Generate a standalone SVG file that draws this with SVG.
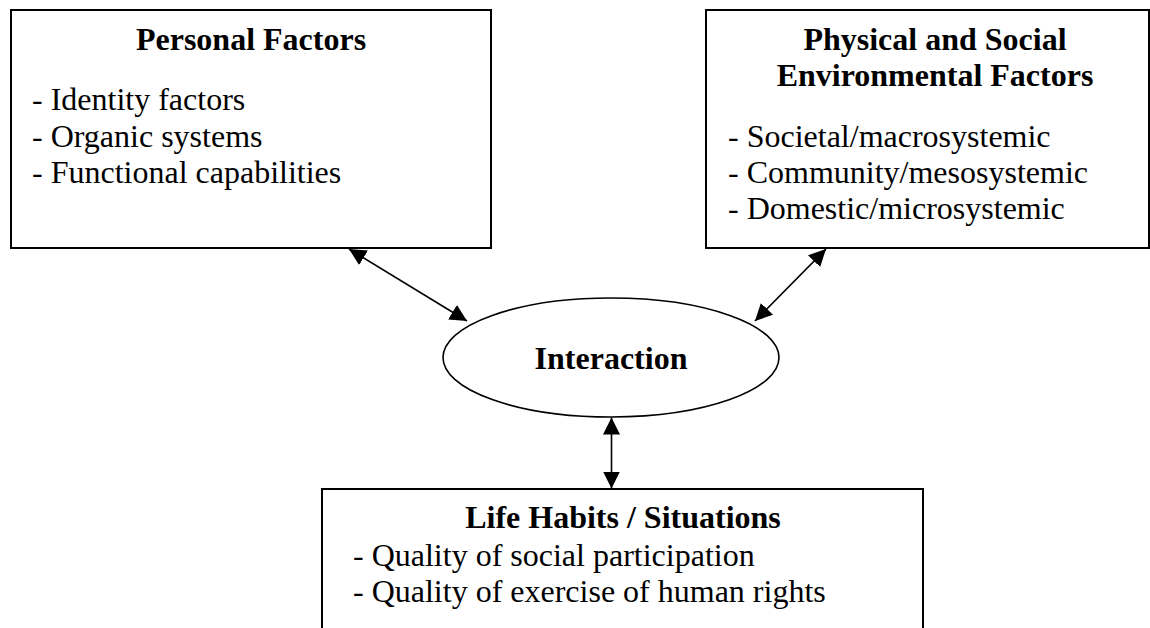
<svg xmlns="http://www.w3.org/2000/svg" width="1150" height="628" viewBox="0 0 1150 628">
  <style>
    .box { fill: #ffffff; stroke: #000000; stroke-width: 2; }
    .oval { fill: #ffffff; stroke: #000000; stroke-width: 1.6; }
    .title { font-family: "Liberation Serif", "Times New Roman", serif; font-weight: bold; font-size: 32px; fill: #000000; text-anchor: middle; }
    .item { font-family: "Liberation Serif", "Times New Roman", serif; font-size: 32px; fill: #000000; }
    .link { stroke: #000000; stroke-width: 1.6; fill: none; marker-start: url(#head); marker-end: url(#head); }
  </style>
  <defs>
    <marker id="head" markerUnits="userSpaceOnUse" markerWidth="17" markerHeight="17" refX="17" refY="8.5" orient="auto-start-reverse">
      <path d="M0,0 L17,8.5 L0,17 z" fill="#000000"/>
    </marker>
  </defs>
  <rect width="1150" height="628" fill="#ffffff"/>

  <g id="personal-factors">
    <rect class="box" x="11" y="10" width="480" height="238"/>
    <text class="title" x="251" y="50">Personal Factors</text>
    <text class="item" x="32" y="110">- Identity factors</text>
    <text class="item" x="32" y="147">- Organic systems</text>
    <text class="item" x="32" y="183">- Functional capabilities</text>
  </g>

  <g id="environmental-factors">
    <rect class="box" x="706" y="10" width="443" height="238"/>
    <text class="title" x="935" y="50">Physical and Social</text>
    <text class="title" x="935" y="86">Environmental Factors</text>
    <text class="item" x="728" y="147">- Societal/macrosystemic</text>
    <text class="item" x="728" y="183">- Community/mesosystemic</text>
    <text class="item" x="728" y="219">- Domestic/microsystemic</text>
  </g>

  <g id="interaction">
    <ellipse class="oval" cx="611" cy="357.5" rx="168" ry="59.5"/>
    <text class="title" x="611" y="369">Interaction</text>
  </g>

  <g id="life-habits">
    <rect class="box" x="322" y="489" width="601" height="160"/>
    <text class="title" x="623" y="528">Life Habits / Situations</text>
    <text class="item" x="353" y="566">- Quality of social participation</text>
    <text class="item" x="353" y="602">- Quality of exercise of human rights</text>
  </g>

  <g id="connectors">
    <line class="link" x1="349" y1="249" x2="467" y2="321"/>
    <line class="link" x1="826" y1="249" x2="755" y2="321"/>
    <line class="link" x1="611.5" y1="417.5" x2="611.5" y2="488.5"/>
  </g>
</svg>
